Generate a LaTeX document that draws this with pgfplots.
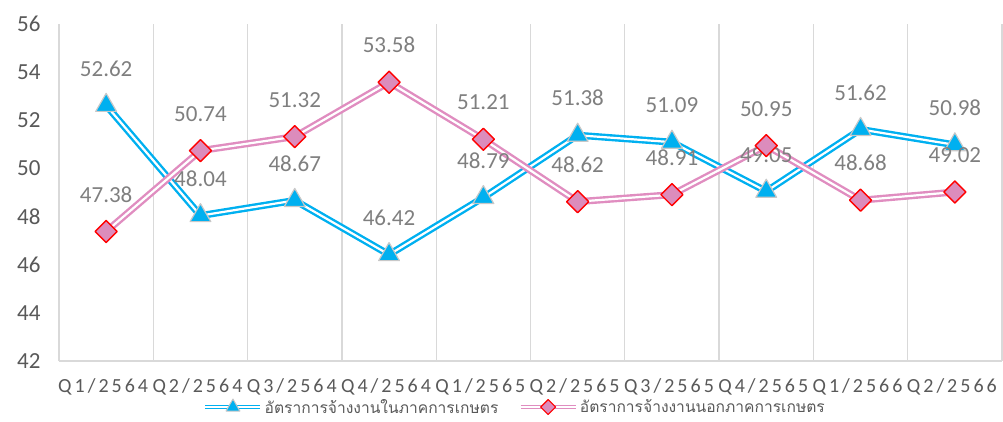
\documentclass[border=0pt]{standalone}
\usepackage{pgfplots}
\pgfplotsset{compat=1.18}
\usepackage{pgfplotstable}
\usepackage{fontspec}
\setmainfont{Carlito}
\newfontfamily\thaifont[Script=Thai]{Loma}
\newfontfamily\xlabfont[LetterSpace=15]{Carlito}
\definecolor{cblue}{HTML}{00B0F0}
\definecolor{cpink}{HTML}{E08DC0}
\definecolor{cpinkfill}{HTML}{DC8CBC}
\definecolor{cgrid}{HTML}{D9D9D9}
\definecolor{ctick}{HTML}{595959}
\definecolor{clab}{HTML}{7F7F7F}
\definecolor{cmark}{HTML}{C8C8C8}

\pgfplotstableread{
x a b
1 52.62 47.38
2 48.04 50.74
3 48.67 51.32
4 46.42 53.58
5 48.79 51.21
6 51.38 48.62
7 51.09 48.91
8 49.05 50.95
9 51.62 48.68
10 50.98 49.02
}\datatab

\begin{document}
\begin{tikzpicture}
\begin{axis}[
  width=943pt, height=337pt, scale only axis,
  at={(0pt,0pt)}, anchor=south west,
  xmin=0.5, xmax=10.5, ymin=42, ymax=56,
  xtick={1,...,10},
  xticklabels={Q1/2564,Q2/2564,Q3/2564,Q4/2564,Q1/2565,Q2/2565,Q3/2565,Q4/2565,Q1/2566,Q2/2566},
  ytick={42,44,...,56},
  yticklabels={42,44,46,48,50,52,54,56},
  minor xtick={0.5,1.5,...,10.5},
  xminorgrids,
  minor grid style={cgrid, line width=1.3pt},
  major tick length=0pt, minor tick length=0pt,
  axis x line*=bottom, axis y line*=left,
  x axis line style={cgrid, line width=1.3pt, -},
  y axis line style={draw=none},
  xticklabel style={font=\xlabfont\fontsize{20}{24}\selectfont, text=ctick, yshift=-14pt, xshift=-3pt},
  yticklabel style={font=\fontsize{23}{27}\selectfont, text=ctick, xshift=-15pt},
  clip=false,
  line join=round,
  legend style={at={(0.1527,-0.1365)}, anchor=west, draw=none, fill=none,
    legend columns=2, font=\thaifont\fontsize{15.6}{19}\selectfont, text=ctick,
    inner sep=0pt,
    /tikz/every even column/.append style={column sep=18pt},
    /tikz/every odd column/.append style={column sep=0pt}},
  every node near coord/.append style={font=\fontsize{23}{27}\selectfont, text=clab, inner sep=0pt, yshift=28.5pt},
]
% blue series
\addplot[cblue, line width=7pt, forget plot] table[x=x,y=a]{\datatab};
\addplot[white, line width=2.2pt, forget plot] table[x=x,y=a]{\datatab};
\addplot[only marks, mark=triangle*, mark size=12pt,
  mark options={fill=cblue, draw=cmark, line width=1.2pt},
  nodes near coords={\pgfmathprintnumber[fixed,fixed zerofill,precision=2,assume math mode=true]{\pgfplotspointmeta}},
  forget plot] table[x=x,y=a]{\datatab};
% pink series
\addplot[cpink, line width=7pt, forget plot] table[x=x,y=b]{\datatab};
\addplot[white, line width=2.2pt, forget plot] table[x=x,y=b]{\datatab};
\addplot[only marks, mark=square*, mark size=7.8pt,
  mark options={fill=cpinkfill, draw=red, line width=1.4pt, rotate=45},
  nodes near coords={\pgfmathprintnumber[fixed,fixed zerofill,precision=2,assume math mode=true]{\pgfplotspointmeta}},
  forget plot] table[x=x,y=b]{\datatab};
% legend
\addlegendimage{legend image code/.code={
  \draw[cblue, line width=4.5pt] (0pt,0pt) -- (55pt,0pt);
  \draw[white, line width=1.5pt] (0pt,0pt) -- (55pt,0pt);
  \path plot[only marks, mark=triangle*, mark size=8pt, mark options={fill=cblue, draw=cmark, line width=1pt}] coordinates {(27.5pt,0pt)};
}}
\addlegendentry{อัตราการจ้างงานในภาคการเกษตร}
\addlegendimage{legend image code/.code={
  \draw[cpink, line width=4.5pt] (0pt,0pt) -- (55pt,0pt);
  \draw[white, line width=1.5pt] (0pt,0pt) -- (55pt,0pt);
  \path plot[only marks, mark=square*, mark size=5.3pt, mark options={fill=cpinkfill, draw=red, line width=1.2pt, rotate=45}] coordinates {(27.5pt,0pt)};
}}
\addlegendentry{อัตราการจ้างงานนอกภาคการเกษตร}
\end{axis}
\pgfresetboundingbox
\path (-59pt,-60pt) rectangle (944pt,361pt);
\end{tikzpicture}
\end{document}
